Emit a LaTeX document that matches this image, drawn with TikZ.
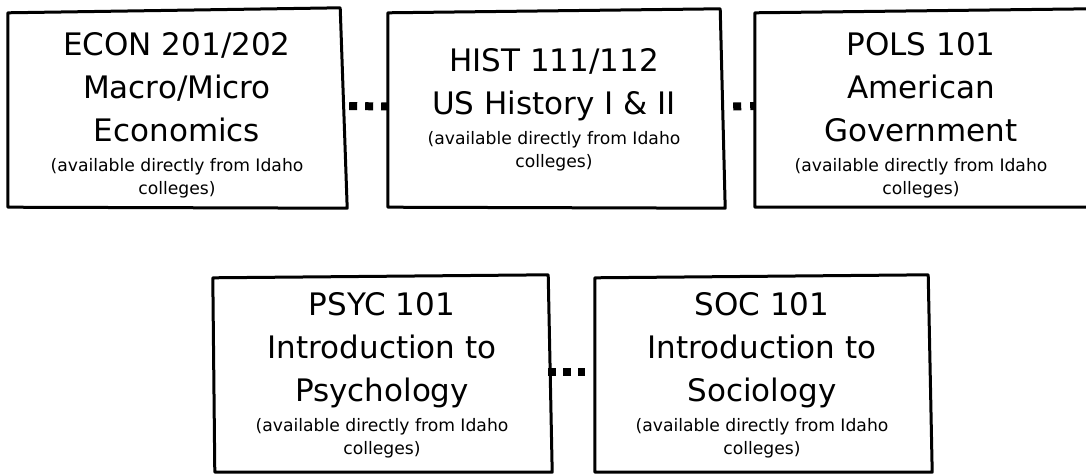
\documentclass[tikz,border=0pt]{standalone}
\usepackage{fontspec}
\setmainfont{DejaVu Sans}
\usetikzlibrary{calc}
\newcommand\coursetext[2]{{\fontsize{31}{43}\selectfont\spaceskip=\fontdimen2\font\relax #1\par}\vspace{7pt}{\fontsize{17.2}{23}\selectfont\spaceskip=\fontdimen2\font\relax #2\par}}
\newcommand\sketchbox[5]{\draw[sketch] ($(#1.north west)+#2$) -- ($(#1.north east)+#3$) -- ($(#1.south east)+#4$) -- ($(#1.south west)+#5$) -- cycle;}
\begin{document}
\begin{tikzpicture}[x=1pt,y=-1pt,
  coursebox/.style={rectangle, draw=none, inner sep=0pt},
  txt/.style={anchor=base, text width=330pt, align=center, inner sep=0pt},
  sketch/.style={line width=3pt, line join=round, line cap=round},
  dots/.style={line width=8pt}]
\useasboundingbox (0,0) rectangle (1086,474);
% boxes
\node (econ) [coursebox, minimum width=339pt, minimum height=200pt] at (177.5,108) {};
\node (hist) [coursebox, minimum width=337pt, minimum height=199pt] at (556.5,108.5) {};
\node (pols) [coursebox, minimum width=335pt, minimum height=198pt] at (922.5,108) {};
\node (psyc) [coursebox, minimum width=339pt, minimum height=197pt] at (382.5,373.5) {};
\node (soc) [coursebox, minimum width=337pt, minimum height=197pt] at (763.5,373.5) {};
% connectors
\draw[dots, dash pattern=on 8pt off 8pt] ($(econ.east)+(2,-2)$) -- ($(hist.west)+(0,-2)$);
\draw[dots, dash pattern=on 8pt off 9pt] ($(hist.east)+(8,-2)$) -- ($(pols.west)+(0,-2)$);
\draw[dots, dash pattern=on 8pt off 7pt] ($(psyc.east)+(-4,-2)$) -- ($(soc.west)+(-10,-2)$);
% outlines
\sketchbox{econ}{(0,5)}{(-7,0)}{(0,0)}{(0,-1)}
\sketchbox{hist}{(0,4)}{(-5,0)}{(0,0)}{(0,-1)}
\sketchbox{pols}{(0,4)}{(0,0)}{(0,0)}{(0,0)}
\sketchbox{psyc}{(0,3)}{(-4,0)}{(0,0)}{(2,0)}
\sketchbox{soc}{(0,3)}{(-4,0)}{(0,0)}{(0,0)}
% texts
\node (econ-t) [txt] at (177,55) {\coursetext{ECON 201/202\par Macro/Micro\par Economics}{(available directly from Idaho\par colleges)}};
\node (hist-t) [txt] at (554,71) {\coursetext{HIST 111/112\par US History I \& II}{(available directly from Idaho\par colleges)}};
\node (pols-t) [txt] at (921,55) {\coursetext{POLS 101\par American\par Government}{(available directly from Idaho\par colleges)}};
\node (psyc-t) [txt] at (382,315) {\coursetext{PSYC 101\par Introduction to\par Psychology}{(available directly from Idaho\par colleges)}};
\node (soc-t) [txt] at (762,315) {\coursetext{SOC 101\par Introduction to\par Sociology}{(available directly from Idaho\par colleges)}};
\end{tikzpicture}
\end{document}
